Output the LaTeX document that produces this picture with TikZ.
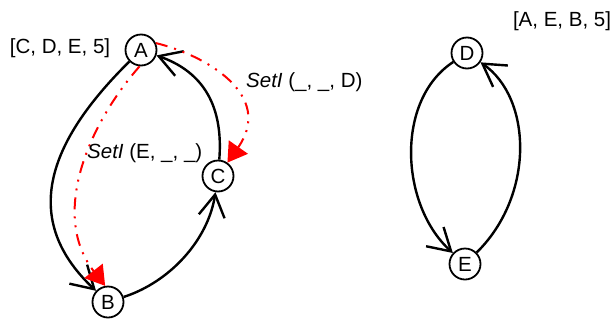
\documentclass[tikz,border=0pt]{standalone}
\usepackage{fontspec}
\setmainfont{Liberation Sans}
\usetikzlibrary{arrows.meta}
\begin{document}
\begin{tikzpicture}[x=1pt,y=-1pt,
  font=\fontsize{20.5}{24}\selectfont,
  vertex/.style={circle,draw,line width=1.8pt,minimum size=31pt,inner sep=0pt},
  edge/.style={line width=2.4pt,-{Straight Barb[length=22pt,width=26pt]}},
  hint/.style={red,line width=2pt,
    dash pattern=on 12pt off 7pt on 2pt off 7pt on 2pt off 7pt,
    -{Triangle[length=19pt,width=23pt]}},
  tag/.style={inner sep=0pt}]
\useasboundingbox (0,0) rectangle (616,322);

% processes
\node[vertex] (A) at (141,50) {A};
\node[vertex] (B) at (108,302) {B};
\node[vertex] (C) at (218,176) {C};
\node[vertex] (D) at (467,53) {D};
\node[vertex] (E) at (465,264) {E};

% local state lists
\node[tag] (la) at (60,48) {[C, D, E, 5]};
\node[tag] (ld) at (562,21) {[A, E, B, 5]};

% ring A -> B -> C -> A
\draw[edge] (A) .. controls (55,135) and (15,215) .. (B);
\draw[edge] (B) .. controls (170,282) and (208,240) .. (C);
\draw[edge] (C) .. controls (224,100) and (198,70) .. (A);

% ring D -> E -> D
\draw[edge] (D) .. controls (395,100) and (400,205) .. (E);
\draw[edge] (E) .. controls (535,195) and (532,98) .. (D);

% SetI messages
\draw[hint] (A.-95) .. controls (88,125) and (50,215) .. (B.100);
\draw[hint] (A.25) .. controls (205,55) and (275,95) .. (C);

\node[tag,anchor=west] (sc) at (246,82) {\textit{SetI} (\_, \_, D)};
\node[tag,anchor=west] (sb) at (87,153) {\textit{SetI} (E, \_, \_)};
\end{tikzpicture}
\end{document}
